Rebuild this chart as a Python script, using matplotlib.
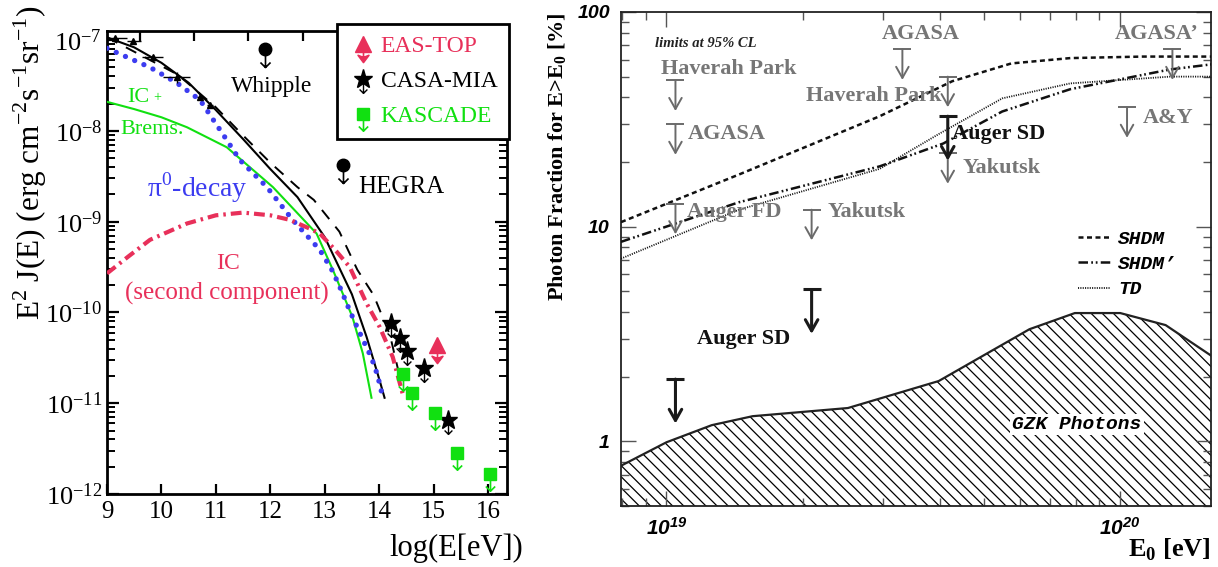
import numpy as np
import matplotlib
matplotlib.use("Agg")
import matplotlib.pyplot as plt
from matplotlib.path import Path
from matplotlib.lines import Line2D
from matplotlib.ticker import LogLocator, NullFormatter, FixedLocator

plt.rcParams['font.family'] = ['Liberation Serif', 'DejaVu Serif']
plt.rcParams['hatch.linewidth'] = 0.9

# ---------------- left panel data: log10(E/eV) vs log10(E^2 J) ----------------
tot_logE = [9.0, 9.5, 10.0, 10.5, 11.0, 11.5, 12.0, 12.5, 13.0, 13.5, 13.77, 14.01, 14.10]
tot_logF = [-6.97, -7.08, -7.25, -7.47, -7.77, -8.09, -8.42, -8.73, -9.17, -9.80, -10.27, -10.75, -10.94]

dash_logE = [9.0, 10.3, 11.0, 11.5, 12.0, 12.5, 12.8, 13.27, 13.6, 13.9, 14.2, 14.38]
dash_logF = [-6.97, -7.38, -7.74, -8.05, -8.35, -8.62, -8.76, -9.11, -9.53, -9.81, -10.25, -10.71]

pi0_logE = [9.0, 9.79, 10.28, 10.71, 11.20, 11.44, 11.94, 12.41, 12.91, 13.15, 13.30, 13.46, 13.64, 13.86, 13.97, 14.05]
pi0_logF = [-7.09, -7.30, -7.47, -7.66, -8.10, -8.32, -8.62, -8.98, -9.31, -9.55, -9.75, -9.98, -10.22, -10.50, -10.69, -10.89]

icb_logE = [9.0, 9.5, 10.0, 10.47, 11.20, 12.05, 12.85, 13.15, 13.51, 13.70, 13.86]
icb_logF = [-7.68, -7.76, -7.85, -7.96, -8.18, -8.62, -9.13, -9.53, -10.05, -10.45, -10.94]

ic2_logE = [9.0, 9.4, 9.79, 10.47, 11.0, 11.5, 12.0, 12.36, 12.7, 12.91, 13.22, 13.46, 13.77, 14.01, 14.25, 14.43]
ic2_logF = [-9.57, -9.38, -9.20, -9.02, -8.93, -8.90, -8.93, -8.98, -9.07, -9.13, -9.33, -9.50, -9.90, -10.16, -10.49, -10.89]

pt_logE = [9.15, 9.48, 9.84, 10.28, 10.71, 10.89]
pt_logF = [-6.98, -7.01, -7.19, -7.41, -7.63, -7.72]
pt_lo = [9.02, 9.37, 9.64, 10.03, 10.65, 10.84]
pt_hi = [9.37, 9.62, 10.03, 10.52, 10.77, 10.94]
pt_dy = [0.02, 0.02, 0.03, 0.06, 0.03, 0.03]

whipple = (11.90, -7.10)
hegra = (13.33, -8.38)
casa_logE = [14.21, 14.38, 14.52, 14.83, 15.26]
casa_logF = [-10.12, -10.28, -10.42, -10.61, -11.19]
kasc_logE = [14.43, 14.61, 15.02, 15.44, 16.03]
kasc_logF = [-10.68, -10.89, -11.11, -11.55, -11.78]
eas = (15.06, -10.36)

left_yticks = [1e-12, 1e-11, 1e-10, 1e-9, 1e-8, 1e-7]

# ---------------- right panel data: E0 [eV] vs photon fraction [%] ----------------
shdm_logE = [18.90, 19.16, 19.47, 19.63, 19.76, 19.89, 20.05, 20.20]
shdm_pct = [10.5, 17.5, 32.7, 47.6, 57.6, 61.0, 62.0, 62.0]
shdmp_logE = [18.90, 19.16, 19.47, 19.61, 19.74, 19.89, 20.11, 20.20]
shdmp_pct = [8.5, 13.0, 19.1, 24.4, 34.4, 43.7, 54.0, 57.0]
td_logE = [18.90, 19.16, 19.47, 19.60, 19.74, 19.89, 20.11, 20.20]
td_pct = [7.1, 12.0, 18.6, 27.0, 39.6, 46.5, 50.0, 50.0]
gzk_logE = [18.90, 19.00, 19.10, 19.19, 19.40, 19.60, 19.80, 19.90, 20.00, 20.10, 20.20]
gzk_pct = [0.77, 0.99, 1.19, 1.31, 1.43, 1.91, 3.33, 3.96, 3.96, 3.48, 2.51]

lim_logE = [19.02, 19.02, 19.02, 19.32, 19.52, 19.62, 19.62, 20.115, 20.015]
lim_pct = [48, 30, 12.8, 12.0, 67, 50, 22, 67, 36]
auger_logE = [19.02, 19.32, 19.62]
auger_pct = [1.95, 5.1, 32.7]

RED = '#e8305a'
BLUE = '#3c3cf0'
GREEN = '#11e011'
GRAY_T = '#767676'
GRAY_A = '#6a6a6a'

MV, LT, CL = Path.MOVETO, Path.LINETO, Path.CLOSEPOLY
arrow_open = Path([(0, 0), (0, -1), (-0.28, -0.72), (0, -1), (0.28, -0.72)], [MV, LT, MV, LT, LT])
arrow_solid = Path([(0, 0), (0, -0.7), (-0.3, -0.6), (0, -1), (0.3, -0.6), (0, -0.72), (0, 0)],
                   [MV, LT, MV, LT, LT, LT, CL])

fig = plt.figure(figsize=(12.18, 5.67), dpi=100)
axL = fig.add_axes([107/1218, 1-494/567, 400/1218, 463/567])
axR = fig.add_axes([621/1218, 1-506/567, 590/1218, 494/567])

# ================= left panel =================
axL.set_yscale('log')
axL.plot(tot_logE, 10**np.array(tot_logF), color='k', lw=1.5, zorder=3)
axL.plot(dash_logE, 10**np.array(dash_logF), color='k', lw=1.4, ls=(0, (6, 5)), zorder=3)
axL.plot(icb_logE, 10**np.array(icb_logF), color=GREEN, lw=1.5, zorder=3)
axL.plot(pi0_logE, 10**np.array(pi0_logF), color=BLUE, lw=3.8, ls=(0, (0.01, 1.9)),
         dash_capstyle='round', zorder=3)
axL.plot(ic2_logE, 10**np.array(ic2_logF), color=RED, lw=3.0, ls=(0, (2.6, 1.2, 0.6, 1.2)), zorder=3)

pt_F = 10**np.array(pt_logF)
axL.errorbar(pt_logE, pt_F,
             xerr=[np.array(pt_logE) - np.array(pt_lo), np.array(pt_hi) - np.array(pt_logE)],
             yerr=[pt_F - pt_F/10**np.array(pt_dy), pt_F*10**np.array(pt_dy) - pt_F],
             fmt='^', ms=4, color='k', elinewidth=1.0, capsize=0, zorder=4)

for (x, y) in [whipple, hegra]:
    axL.plot([x], [10**y], marker=arrow_open, ms=26, mfc='none', mec='k', mew=1.2, ls='none', zorder=5)
    axL.plot([x], [10**y], marker='o', ms=9, color='k', ls='none', zorder=6)
axL.plot(casa_logE, 10**np.array(casa_logF), marker=arrow_open, ms=20, mfc='none', mec='k', mew=1.0,
         ls='none', zorder=5)
h_casa = axL.plot(casa_logE, 10**np.array(casa_logF), marker='*', ms=14, color='k', ls='none', zorder=6)[0]
axL.plot(kasc_logE, 10**np.array(kasc_logF), marker=arrow_open, ms=24, mfc='none', mec=GREEN, mew=1.2,
         ls='none', zorder=5)
h_kasc = axL.plot(kasc_logE, 10**np.array(kasc_logF), marker='s', ms=8, color=GREEN, ls='none', zorder=6)[0]
h_eas_a = axL.plot([eas[0]], [10**eas[1]], marker=arrow_solid, ms=26, color=RED, mew=1.2, ls='none', zorder=5)[0]
h_eas = axL.plot([eas[0]], [10**eas[1]], marker='^', ms=11, color=RED, ls='none', zorder=6)[0]
h_casa_a = Line2D([], [], marker=arrow_open, ms=20, mfc='none', mec='k', mew=1.0, ls='none')
h_kasc_a = Line2D([], [], marker=arrow_open, ms=24, mfc='none', mec=GREEN, mew=1.2, ls='none')

axL.text(12.03, 3.1e-8, 'Whipple', fontsize=17, ha='center', va='center')
axL.text(13.61, 10**-8.62, 'HEGRA', fontsize=18, ha='left', va='center')
axL.text(9.37, 10**-7.63, 'IC', fontsize=16, color=GREEN, ha='left', va='center')
axL.text(9.85, 10**-7.63, '+', fontsize=10, color=GREEN, ha='left', va='center')
axL.text(9.24, 10**-7.99, 'Brems.', fontsize=16, color=GREEN, ha='left', va='center')
axL.text(9.73, 10**-8.63, r'π$^\mathdefault{0}$-decay', fontsize=20, color=BLUE, ha='left', va='center')
axL.text(11.22, 10**-9.46, 'IC', fontsize=17, color=RED, ha='center', va='center')
axL.text(11.20, 10**-9.79, '(second component)', fontsize=18, color=RED, ha='center', va='center')

axL.set_xlim(9, 16.35)
axL.set_ylim(1e-12, 1.26e-7)
axL.set_xticks(np.arange(9, 17, 1))
# the top axis carries its own ticks, offset from the bottom ones
axL.xaxis.set_minor_locator(FixedLocator(np.arange(9.6, 16, 1.0)))
axL.xaxis.set_minor_formatter(NullFormatter())
axL.set_yticks(left_yticks)
axL.yaxis.set_minor_locator(LogLocator(base=10, subs=np.arange(2, 10), numticks=20))
axL.yaxis.set_minor_formatter(NullFormatter())
axL.tick_params(axis='x', which='major', direction='in', length=7, width=1.6, labelsize=18, pad=5,
                top=False)
axL.tick_params(axis='x', which='minor', direction='in', length=7, width=1.6, top=True, bottom=False)
axL.tick_params(axis='y', which='major', direction='in', length=8.5, width=1.6, labelsize=19, pad=3.5,
                right=True)
axL.tick_params(axis='y', which='minor', direction='in', length=5.5, width=1.4, right=True)
for s in axL.spines.values():
    s.set_linewidth(2)

axL.set_ylabel(r'E$^\mathdefault{2}$ J(E) (erg cm$^\mathdefault{-2}$s$^\mathdefault{-1}$sr$^\mathdefault{-1}$)',
               fontsize=22.5, loc='top')
axL.yaxis.set_label_coords(-0.145, 1.055)
axL.set_xlabel('log(E[eV])', fontsize=22, loc='right', va='center')
axL.xaxis.set_label_coords(1.04, -0.117)

leg = fig.legend([(h_eas, h_eas_a), (h_casa, h_casa_a), (h_kasc, h_kasc_a)],
                 ['EAS-TOP', 'CASA-MIA', 'KASCADE'],
                 loc='upper left', bbox_to_anchor=(337/1218, 1-24/567), bbox_transform=fig.transFigure,
                 frameon=True, fancybox=False, edgecolor='k', framealpha=1,
                 prop={'family': 'Liberation Serif', 'size': 17}, labelcolor=[RED, 'k', GREEN],
                 handlelength=1.2, handletextpad=0.15, borderpad=0.5, labelspacing=0.56, borderaxespad=0)
leg.get_frame().set_linewidth(2)

# ================= right panel =================
axR.set_xscale('log')
axR.set_yscale('log')
gzk_E = 10**np.array(gzk_logE)
axR.fill_between(gzk_E, 0.3, gzk_pct, facecolor='white', edgecolor='k', hatch='\\\\\\', lw=0, zorder=1)
axR.plot(gzk_E, gzk_pct, color='#222222', lw=1.6, zorder=2)
axR.text(10**19.905, 1.2, 'GZK Photons', family='Liberation Mono', fontweight='bold', fontstyle='italic',
         fontsize=14, ha='center', va='center', zorder=3,
         bbox=dict(facecolor='white', edgecolor='none', pad=1.5))

l1, = axR.plot(10**np.array(shdm_logE), shdm_pct, color='#111111', lw=1.8, ls=(0, (2.0, 1.4)), zorder=3)
l2, = axR.plot(10**np.array(shdmp_logE), shdmp_pct, color='#111111', lw=1.8,
               ls=(0, (3.8, 1.3, 0.7, 1.1, 0.7, 1.3)), zorder=3)
l3, = axR.plot(10**np.array(td_logE), td_pct, color='#111111', lw=1.3, ls=(0, (0.6, 0.7)), zorder=3)

def upper_limit(ax, logE, pct, color, lw, length):
    E = 10**logE
    ax.plot([E], [pct], marker='_', ms=13, mew=lw, color=color, zorder=4)
    ax.annotate('', xy=(E, pct), xycoords='data', xytext=(0, -length), textcoords='offset points',
                arrowprops=dict(arrowstyle='<-,head_length=0.8,head_width=0.45', color=color, lw=lw,
                                shrinkA=0, shrinkB=0), zorder=4)

for e, p in zip(lim_logE, lim_pct):
    upper_limit(axR, e, p, GRAY_A, 1.4, 22)
for e, p in zip(auger_logE, auger_pct):
    upper_limit(axR, e, p, '#1a1a1a', 2.2, 32)

gkw = dict(color=GRAY_T, fontweight='bold', fontsize=16, va='center')
axR.text(10**18.976, 71.6, 'limits at 95% CL', fontsize=10.5, fontweight='bold', fontstyle='italic',
         va='center', ha='left', color='#222222')
axR.text(10**19.137, 54, 'Haverah Park', ha='center', **gkw)
axR.text(10**19.048, 26.9, 'AGASA', ha='left', **gkw)
axR.text(10**19.046, 11.7, 'Auger FD', ha='left', **gkw)
axR.text(10**19.355, 11.7, 'Yakutsk', ha='left', **gkw)
axR.text(10**19.56, 79, 'AGASA', ha='center', **gkw)
axR.text(10**19.458, 40.5, 'Haverah Park', ha='center', **gkw)
axR.text(10**19.652, 18.7, 'Yakutsk', ha='left', **gkw)
axR.text(10**20.08, 79, 'AGASA’', ha='center', **gkw)
axR.text(10**20.05, 32, 'A&Y', ha='left', **gkw)
axR.text(10**19.63, 26.9, 'Auger SD', ha='left', va='center', fontweight='bold', fontsize=16, color='#111111')
axR.text(10**19.17, 3.0, 'Auger SD', ha='center', va='center', fontweight='bold', fontsize=16, color='#111111')

legR = axR.legend([l1, l2, l3], ['SHDM', 'SHDM’', 'TD'], loc='upper left',
                  bbox_to_anchor=(1078/1218, 1-230/567), bbox_transform=fig.transFigure,
                  frameon=False, prop={'family': 'Liberation Mono', 'weight': 'bold', 'style': 'italic',
                                       'size': 14},
                  handlelength=1.65, handletextpad=0.4, labelspacing=0.4, borderpad=0, borderaxespad=0)

axR.set_xlim(10**18.9, 10**20.2)
axR.set_ylim(0.5, 100)
tick_font = dict(fontfamily='Liberation Sans', fontweight='bold', fontstyle='italic')
axR.set_xticks([1e19, 1e20], labels=[r'$\mathdefault{10^{19}}$', r'$\mathdefault{10^{20}}$'],
               fontsize=15, **tick_font)
axR.set_yticks([1, 10, 100], labels=['1', '10', '100'], fontsize=14, **tick_font)
axR.xaxis.set_minor_locator(LogLocator(base=10, subs=np.arange(2, 10), numticks=20))
axR.yaxis.set_minor_locator(LogLocator(base=10, subs=np.arange(2, 10), numticks=20))
axR.xaxis.set_minor_formatter(NullFormatter())
axR.yaxis.set_minor_formatter(NullFormatter())
axR.tick_params(which='major', direction='in', length=11, width=1.0, color='#555555', top=True, right=True,
                pad=8)
axR.tick_params(which='minor', direction='in', length=6, width=1.0, color='#555555', top=True, right=True)
for s in axR.spines.values():
    s.set_linewidth(1.3)
    s.set_color('#222222')

axR.set_ylabel(r'Photon Fraction for E>E$_\mathdefault{0}$ [%]', fontsize=16, fontweight='bold', loc='top')
axR.yaxis.set_label_coords(-0.088, 1.0)
axR.set_xlabel(r'E$_\mathdefault{0}$ [eV]', fontsize=19, fontweight='bold', loc='right', va='center')
axR.xaxis.set_label_coords(1.0, -0.088)

fig.savefig('out.png', dpi=100)
